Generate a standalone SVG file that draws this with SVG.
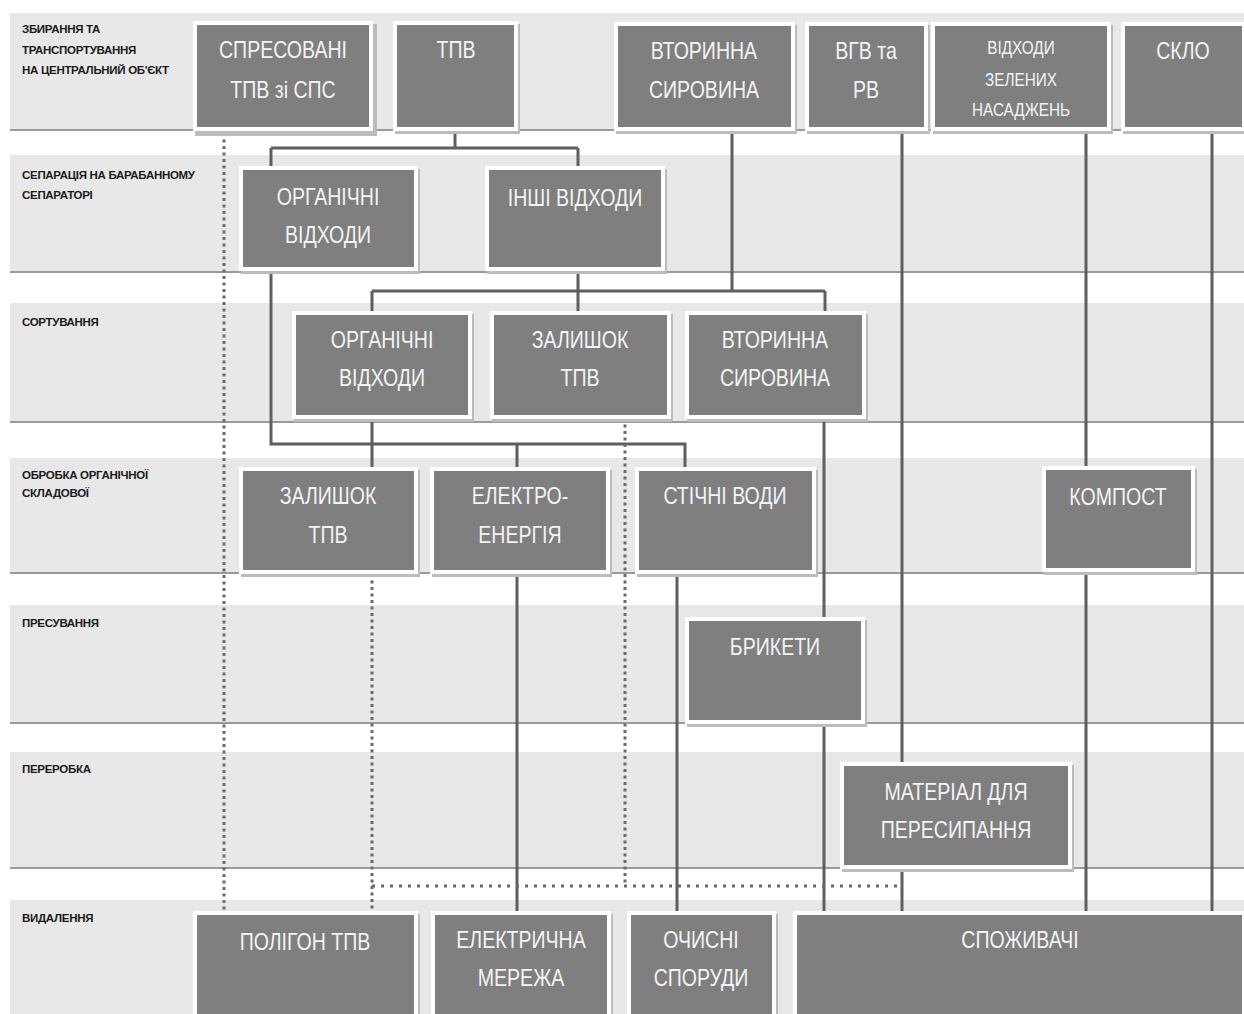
<svg xmlns="http://www.w3.org/2000/svg" width="1244" height="1014" viewBox="0 0 1244 1014">
<style>
.band{fill:#e8e8e8}
.bline{stroke:#9a9a9a;stroke-width:2}
.lbl{font-family:"Liberation Sans",sans-serif;font-size:11.5px;font-weight:bold;fill:#1a1a1a;letter-spacing:-0.3px}
.sh{fill:#bcbcbc}
.fr{fill:#ffffff}
.bx{fill:#7f7f7f}
.t{font-family:"Liberation Sans",sans-serif;font-size:23px;fill:#f4f4f4;text-anchor:middle}
.ts{font-family:"Liberation Sans",sans-serif;font-size:18px;fill:#f4f4f4;text-anchor:middle}
.c{fill:none;stroke:#5f5f5f;stroke-width:3}
.d{fill:none;stroke:#6a6a6a;stroke-width:3;stroke-dasharray:3 3.5}
.dh{fill:none;stroke:#6a6a6a;stroke-width:3;stroke-dasharray:3 6}
</style>
<rect width="1244" height="1014" fill="#ffffff"/>
<g id="bands">
<rect class="band" x="10" y="13" width="1234" height="117"/><line class="bline" x1="10" y1="130" x2="1244" y2="130"/>
<rect class="band" x="10" y="155" width="1234" height="117"/><line class="bline" x1="10" y1="272" x2="1244" y2="272"/>
<rect class="band" x="10" y="303" width="1234" height="119"/><line class="bline" x1="10" y1="422" x2="1244" y2="422"/>
<rect class="band" x="10" y="458" width="1234" height="115"/><line class="bline" x1="10" y1="573" x2="1244" y2="573"/>
<rect class="band" x="10" y="605" width="1234" height="118"/><line class="bline" x1="10" y1="723" x2="1244" y2="723"/>
<rect class="band" x="10" y="752" width="1234" height="116"/><line class="bline" x1="10" y1="868" x2="1244" y2="868"/>
<rect class="band" x="10" y="900" width="1234" height="114"/>
</g>
<g id="labels">
<text class="lbl" x="22" y="33">ЗБИРАННЯ ТА</text>
<text class="lbl" x="22" y="54">ТРАНСПОРТУВАННЯ</text>
<text class="lbl" x="22" y="74">НА ЦЕНТРАЛЬНИЙ ОБ'ЄКТ</text>
<text class="lbl" x="22" y="179">СЕПАРАЦІЯ НА БАРАБАННОМУ</text>
<text class="lbl" x="22" y="199">СЕПАРАТОРІ</text>
<text class="lbl" x="22" y="326">СОРТУВАННЯ</text>
<text class="lbl" x="22" y="479">ОБРОБКА ОРГАНІЧНОЇ</text>
<text class="lbl" x="22" y="497">СКЛАДОВОЇ</text>
<text class="lbl" x="22" y="627">ПРЕСУВАННЯ</text>
<text class="lbl" x="22" y="773">ПЕРЕРОБКА</text>
<text class="lbl" x="22" y="922">ВИДАЛЕННЯ</text>
</g>
<g id="connectors">
<path class="c" d="M455 131 V148 M271 148 H578 M271 148 V168 M578 148 V168"/>
<path class="c" d="M732 131 V291 M372 291 H825 M372 291 V312 M578 268 V312 M825 291 V312"/>
<path class="c" d="M271 268 V444 H685 V468 M372 418 V468 M517 444 V468"/>
<path class="c" d="M517 574 V911 M677 574 V911"/>
<path class="c" d="M824 418 V618 M824 724 V911"/>
<path class="c" d="M902 131 V763 M902 868 V911"/>
<path class="c" d="M1086 131 V467 M1086 572 V911"/>
<path class="c" d="M1212 131 V911"/>
<path class="d" d="M224 133 V911"/>
<path class="d" d="M372 574 V911"/>
<path class="d" d="M625 418 V884"/>
<path class="dh" d="M372 886 H902"/>
</g>
<g id="n1"><rect class="sh" x="195" y="24" width="182" height="112"/><rect class="fr" x="193" y="21" width="180" height="110"/><rect class="bx" x="197" y="25" width="172" height="102"/><text class="t" transform="translate(283 0) scale(0.85 1)" y="58">СПРЕСОВАНІ</text><text class="t" transform="translate(283 0) scale(0.85 1)" y="98">ТПВ зі СПС</text></g>
<g id="n2"><rect class="sh" x="395" y="24" width="125" height="110"/><rect class="fr" x="393" y="21" width="125" height="110"/><rect class="bx" x="397" y="25" width="117" height="102"/><text class="t" transform="translate(456 0) scale(0.85 1)" y="58">ТПВ</text></g>
<g id="n3"><rect class="sh" x="616" y="25" width="181" height="109"/><rect class="fr" x="614" y="22" width="181" height="109"/><rect class="bx" x="618" y="26" width="173" height="101"/><text class="t" transform="translate(704 0) scale(0.85 1)" y="59">ВТОРИННА</text><text class="t" transform="translate(704 0) scale(0.85 1)" y="98">СИРОВИНА</text></g>
<g id="n4"><rect class="sh" x="807" y="25" width="123" height="109"/><rect class="fr" x="805" y="22" width="123" height="109"/><rect class="bx" x="809" y="26" width="115" height="101"/><text class="t" transform="translate(866 0) scale(0.85 1)" y="59">ВГВ та</text><text class="t" transform="translate(866 0) scale(0.85 1)" y="98">РВ</text></g>
<g id="n5"><rect class="sh" x="933" y="25" width="180" height="109"/><rect class="fr" x="931" y="22" width="180" height="109"/><rect class="bx" x="935" y="26" width="172" height="101"/><text class="ts" transform="translate(1021 0) scale(0.85 1)" y="54">ВІДХОДИ</text><text class="ts" transform="translate(1021 0) scale(0.85 1)" y="86">ЗЕЛЕНИХ</text><text class="ts" transform="translate(1021 0) scale(0.85 1)" y="116">НАСАДЖЕНЬ</text></g>
<g id="n6"><rect class="sh" x="1123" y="25" width="125" height="109"/><rect class="fr" x="1121" y="22" width="125" height="109"/><rect class="bx" x="1125" y="26" width="117" height="101"/><text class="t" transform="translate(1183 0) scale(0.85 1)" y="59">СКЛО</text></g>
<g id="n7"><rect class="sh" x="241" y="169" width="179" height="105"/><rect class="fr" x="239" y="166" width="179" height="105"/><rect class="bx" x="243" y="170" width="171" height="97"/><text class="t" transform="translate(328 0) scale(0.85 1)" y="205">ОРГАНІЧНІ</text><text class="t" transform="translate(328 0) scale(0.85 1)" y="243">ВІДХОДИ</text></g>
<g id="n8"><rect class="sh" x="487" y="169" width="180" height="105"/><rect class="fr" x="485" y="166" width="180" height="105"/><rect class="bx" x="489" y="170" width="172" height="97"/><text class="t" transform="translate(575 0) scale(0.85 1)" y="206">ІНШІ ВІДХОДИ</text></g>
<g id="n9"><rect class="sh" x="294" y="314" width="180" height="108"/><rect class="fr" x="292" y="311" width="180" height="108"/><rect class="bx" x="296" y="315" width="172" height="100"/><text class="t" transform="translate(382 0) scale(0.85 1)" y="348">ОРГАНІЧНІ</text><text class="t" transform="translate(382 0) scale(0.85 1)" y="386">ВІДХОДИ</text></g>
<g id="n10"><rect class="sh" x="492" y="314" width="181" height="108"/><rect class="fr" x="490" y="311" width="181" height="108"/><rect class="bx" x="494" y="315" width="173" height="100"/><text class="t" transform="translate(580 0) scale(0.85 1)" y="348">ЗАЛИШОК</text><text class="t" transform="translate(580 0) scale(0.85 1)" y="386">ТПВ</text></g>
<g id="n11"><rect class="sh" x="687" y="314" width="181" height="108"/><rect class="fr" x="685" y="311" width="181" height="108"/><rect class="bx" x="689" y="315" width="173" height="100"/><text class="t" transform="translate(775 0) scale(0.85 1)" y="348">ВТОРИННА</text><text class="t" transform="translate(775 0) scale(0.85 1)" y="386">СИРОВИНА</text></g>
<g id="n12"><rect class="sh" x="241" y="470" width="179" height="107"/><rect class="fr" x="239" y="467" width="179" height="107"/><rect class="bx" x="243" y="471" width="171" height="99"/><text class="t" transform="translate(328 0) scale(0.85 1)" y="504">ЗАЛИШОК</text><text class="t" transform="translate(328 0) scale(0.85 1)" y="543">ТПВ</text></g>
<g id="n13"><rect class="sh" x="432" y="470" width="180" height="107"/><rect class="fr" x="430" y="467" width="180" height="107"/><rect class="bx" x="434" y="471" width="172" height="99"/><text class="t" transform="translate(520 0) scale(0.85 1)" y="504">ЕЛЕКТРО-</text><text class="t" transform="translate(520 0) scale(0.85 1)" y="543">ЕНЕРГІЯ</text></g>
<g id="n14"><rect class="sh" x="637" y="470" width="181" height="107"/><rect class="fr" x="635" y="467" width="181" height="107"/><rect class="bx" x="639" y="471" width="173" height="99"/><text class="t" transform="translate(725 0) scale(0.85 1)" y="504">СТІЧНІ ВОДИ</text></g>
<g id="n15"><rect class="sh" x="1044" y="469" width="153" height="106"/><rect class="fr" x="1042" y="466" width="153" height="106"/><rect class="bx" x="1046" y="470" width="145" height="98"/><text class="t" transform="translate(1118 0) scale(0.85 1)" y="505">КОМПОСТ</text></g>
<g id="n16"><rect class="sh" x="687" y="620" width="180" height="107"/><rect class="fr" x="685" y="617" width="180" height="107"/><rect class="bx" x="689" y="621" width="172" height="99"/><text class="t" transform="translate(775 0) scale(0.85 1)" y="655">БРИКЕТИ</text></g>
<g id="n17"><rect class="sh" x="842" y="765" width="232" height="107"/><rect class="fr" x="840" y="762" width="232" height="107"/><rect class="bx" x="844" y="766" width="224" height="99"/><text class="t" transform="translate(956 0) scale(0.85 1)" y="800">МАТЕРІАЛ ДЛЯ</text><text class="t" transform="translate(956 0) scale(0.85 1)" y="838">ПЕРЕСИПАННЯ</text></g>
<g id="n18"><rect class="sh" x="195" y="914" width="225" height="110"/><rect class="fr" x="193" y="911" width="225" height="110"/><rect class="bx" x="197" y="915" width="217" height="105"/><text class="t" transform="translate(305 0) scale(0.85 1)" y="950">ПОЛІГОН ТПВ</text></g>
<g id="n19"><rect class="sh" x="433" y="914" width="180" height="110"/><rect class="fr" x="431" y="911" width="180" height="110"/><rect class="bx" x="435" y="915" width="172" height="105"/><text class="t" transform="translate(521 0) scale(0.85 1)" y="948">ЕЛЕКТРИЧНА</text><text class="t" transform="translate(521 0) scale(0.85 1)" y="986">МЕРЕЖА</text></g>
<g id="n20"><rect class="sh" x="629" y="914" width="149" height="110"/><rect class="fr" x="627" y="911" width="149" height="110"/><rect class="bx" x="631" y="915" width="141" height="105"/><text class="t" transform="translate(701 0) scale(0.85 1)" y="948">ОЧИСНІ</text><text class="t" transform="translate(701 0) scale(0.85 1)" y="986">СПОРУДИ</text></g>
<g id="n21"><rect class="sh" x="795" y="914" width="453" height="110"/><rect class="fr" x="793" y="911" width="453" height="110"/><rect class="bx" x="797" y="915" width="445" height="105"/><text class="t" transform="translate(1020 0) scale(0.85 1)" y="948">СПОЖИВАЧІ</text></g>
</svg>
